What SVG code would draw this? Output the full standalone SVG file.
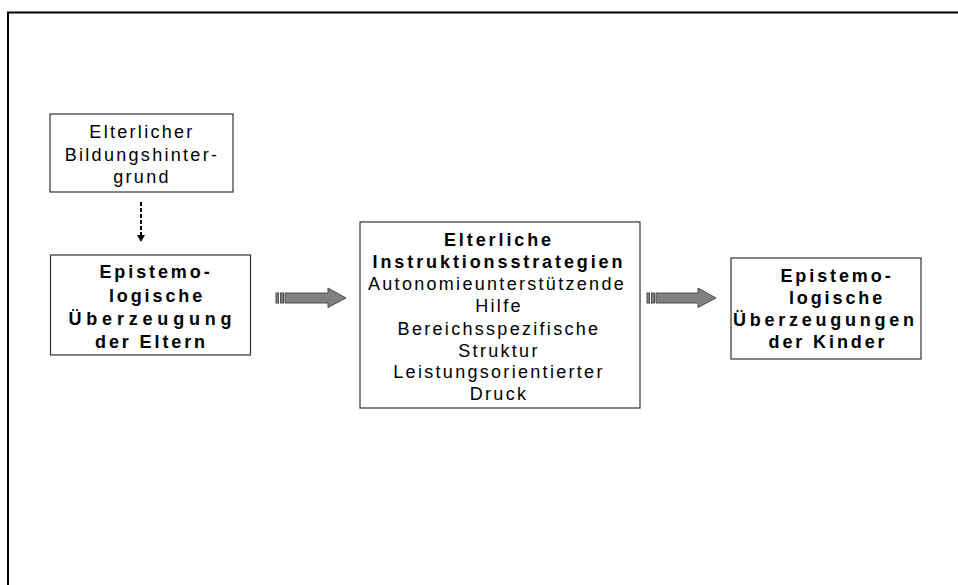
<svg xmlns="http://www.w3.org/2000/svg" width="958" height="585" viewBox="0 0 958 585">
<defs>
<style>
.box{fill:#fff;stroke:#333;stroke-width:1.2}
.t{font-family:"Liberation Sans",Arial,sans-serif;font-size:18px;fill:#000;text-anchor:middle;letter-spacing:2.3px}
.b{font-weight:bold;letter-spacing:2.9px}
.arr{fill:#808080;stroke:#4d4d4d;stroke-width:1}
</style>
</defs>
<rect width="958" height="585" fill="#fff"/>
<g id="frame">
<path d="M8,585 V12.5 H958" fill="none" stroke="#000" stroke-width="2"/>
</g>
<g id="connectors">
<line x1="141" y1="202" x2="141" y2="235" stroke="#000" stroke-width="2" stroke-dasharray="4,2"/>
<path d="M137,235 L145,235 L141,242 Z" fill="#000"/>
<g id="arrow1">
<rect class="arr" x="276" y="293" width="2.5" height="10"/>
<rect class="arr" x="280.5" y="293" width="3" height="10"/>
<path class="arr" d="M285,293 H328 V288 L346,298 L328,307.5 V303 H285 Z"/>
</g>
<g id="arrow2">
<rect class="arr" x="647" y="293" width="2.5" height="10"/>
<rect class="arr" x="651.5" y="293" width="3" height="10"/>
<path class="arr" d="M656,293 H698 V288 L716,298 L698,307.5 V303 H656 Z"/>
</g>
</g>
<g id="node1">
<rect class="box" x="50" y="114" width="183" height="78"/>
<text class="t" x="142" y="138">Elterlicher</text>
<text class="t" x="142" y="160.5">Bildungshinter-</text>
<text class="t" x="142" y="183">grund</text>
</g>
<g id="node2">
<rect class="box" x="50.5" y="255" width="200" height="100"/>
<text class="t b" x="156" y="278">Epistemo-</text>
<text class="t b" x="157" y="301.5">logische</text>
<text class="t b" x="151.5" y="325" textLength="166" lengthAdjust="spacing">Überzeugung</text>
<text class="t b" x="151.5" y="348">der Eltern</text>
</g>
<g id="node3">
<rect class="box" x="360" y="222" width="280" height="186"/>
<text class="t b" x="499" y="246">Elterliche</text>
<text class="t b" x="499" y="268">Instruktionsstrategien</text>
<text class="t" x="497" y="290">Autonomieunterstützende</text>
<text class="t" x="499" y="312">Hilfe</text>
<text class="t" x="499" y="334.5">Bereichsspezifische</text>
<text class="t" x="499" y="356.5">Struktur</text>
<text class="t" x="499" y="378">Leistungsorientierter</text>
<text class="t" x="499" y="400">Druck</text>
</g>
<g id="node4">
<rect class="box" x="731" y="258" width="190" height="101"/>
<text class="t b" x="837" y="282">Epistemo-</text>
<text class="t b" x="837" y="304">logische</text>
<text class="t b" x="825" y="326" textLength="184" lengthAdjust="spacing">Überzeugungen</text>
<text class="t b" x="828" y="348">der Kinder</text>
</g>
</svg>
